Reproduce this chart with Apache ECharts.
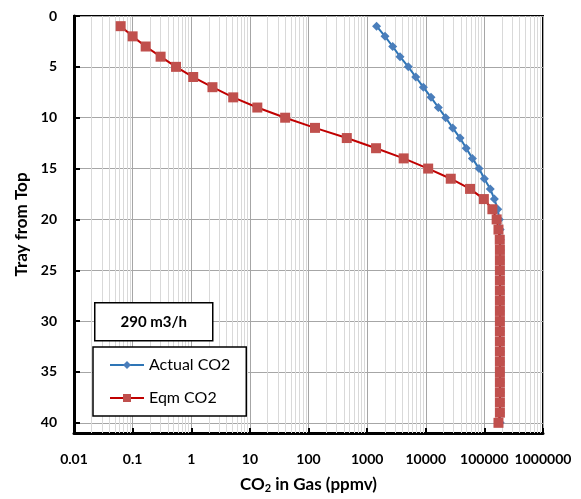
<!DOCTYPE html>
<html>
<head>
<meta charset="utf-8">
<script src="https://cdn.jsdelivr.net/npm/echarts@6/dist/echarts.min.js"></script>
<style>html,body{margin:0;padding:0;background:#fff}#c{width:581px;height:499px}</style>
</head>
<body>
<div id="c"></div>
<script>
const trays = [1,2,3,4,5,6,7,8,9,10,11,12,13,14,15,16,17,18,19,20,21,22,23,24,25,26,27,28,29,30,31,32,33,34,35,36,37,38,39,40];
const actualCO2 = [1450,2020,2730,3640,5040,6760,9100,12300,16400,21900,28800,38500,49000,62500,81000,100000,126000,148000,169000,180000,
  186000,187000,187000,187000,187000,187000,187000,187000,187000,187000,187000,187000,187000,187000,187000,187000,187000,187000,187000,186000];
const eqmCO2 = [0.0625,0.1,0.167,0.30,0.55,1.08,2.3,5.2,13.4,40,129,450,1420,4200,11000,26700,57000,98000,137000,162000,
  174000,183000,184000,184000,184000,184000,184000,184000,184000,184000,184000,184000,184000,184000,184000,184000,184000,184000,184000,174000];
const xTickLabels = ['0.01','0.1','1','10','100','1000','10000','100000','1000000'];
const yTicks = [0,5,10,15,20,25,30,35,40];
const decades = [0.01,0.1,1,10,100,1000,10000,100000];
const minorMult = [2,3,4,5,6,7,8,9];

const minorLines = [];
decades.forEach(d => minorMult.forEach(m => minorLines.push({xAxis: +(m*d).toPrecision(3)})));

const FONT = 'Lato, "Open Sans", sans-serif';
const chart = echarts.init(document.getElementById('c'));
chart.setOption({
  animation: false,
  backgroundColor: '#fff',
  grid: {left: 74, right: 38, top: 16, bottom: 63, show: true, borderColor: '#000', borderWidth: 2, backgroundColor: 'transparent'},
  xAxis: {
    type: 'log', logBase: 10, min: 0.01, max: 1000000,
    name: '{a|CO}{s|2}{a| in Gas (ppmv)}', nameLocation: 'middle', nameGap: 42,
    nameTextStyle: {rich: {a: {fontFamily: FONT, fontWeight: 'bold', fontSize: 17, color: '#000'}, s: {fontFamily: FONT, fontWeight: 'bold', fontSize: 11, color: '#000', verticalAlign: 'bottom', padding: [8,0,0,0]}}},
    axisLine: {show: true, onZero: false, lineStyle: {color: '#000', width: 3}},
    axisTick: {show: true, inside: true, length: 5, lineStyle: {color: '#000', width: 2}},
    axisLabel: {margin: 19, color: '#000', fontFamily: FONT, fontWeight: 'bold', fontSize: 14,
      formatter: function(v){ const e = Math.round(Math.log10(v)); return xTickLabels[e + 2] || ''; }},
    splitLine: {show: true, lineStyle: {color: '#A6A6A6', width: 1}},
    minorTick: {show: false}, minorSplitLine: {show: false}
  },
  yAxis: {
    type: 'value', inverse: true, min: 0, max: 41, interval: 5,
    name: 'Tray from Top', nameLocation: 'middle', nameGap: 44, nameRotate: 90,
    nameTextStyle: {fontFamily: FONT, fontWeight: 'bold', fontSize: 17, color: '#000'},
    axisLine: {show: true, onZero: false, lineStyle: {color: '#000', width: 3}},
    axisTick: {show: true, inside: true, length: 6, lineStyle: {color: '#000', width: 2}},
    axisLabel: {margin: 17, color: '#000', fontFamily: FONT, fontWeight: 'bold', fontSize: 14,
      formatter: function(v){ return yTicks.indexOf(v) >= 0 ? String(v) : ''; }},
    splitLine: {show: true, lineStyle: {color: '#A6A6A6', width: 1}}
  },
  legend: {
    left: 93, top: 347, orient: 'vertical', itemGap: 17, itemWidth: 34, itemHeight: 10, z: 20,
    padding: [10, 16, 10, 16], borderColor: '#000', borderWidth: 1.5, backgroundColor: '#fff',
    textStyle: {fontFamily: FONT, fontSize: 16, color: '#000'},
    data: ['Actual CO2', 'Eqm CO2']
  },
  graphic: [{
    type: 'group', left: 94, top: 302, z: 20, children: [
      {type: 'rect', z: 20, shape: {x: 0, y: 0, width: 118, height: 38}, style: {fill: '#fff', stroke: '#000', lineWidth: 1.5}},
      {type: 'text', z: 21, x: 59, y: 19, style: {text: '290 m3/h', fontFamily: FONT, fontSize: 15, fontWeight: 'bold', fill: '#000', align: 'center', verticalAlign: 'middle'}}
    ]
  }],
  series: [
    {
      name: 'Actual CO2', type: 'line', z: 3,
      data: trays.map((t,i) => [actualCO2[i], t]),
      symbol: 'diamond', symbolSize: 9,
      lineStyle: {color: '#2E75B6', width: 2}, itemStyle: {color: '#4A7EBB'},
      markLine: {silent: true, z: 1, symbol: 'none', label: {show: false},
        lineStyle: {color: '#D9D9D9', width: 1, type: 'solid'}, data: minorLines}
    },
    {
      name: 'Eqm CO2', type: 'line', z: 4,
      data: trays.map((t,i) => [eqmCO2[i], t]),
      symbol: 'rect', symbolSize: 10,
      lineStyle: {color: '#C00000', width: 2}, itemStyle: {color: '#C0504D'}
    }
  ]
});
</script>
</body>
</html>
